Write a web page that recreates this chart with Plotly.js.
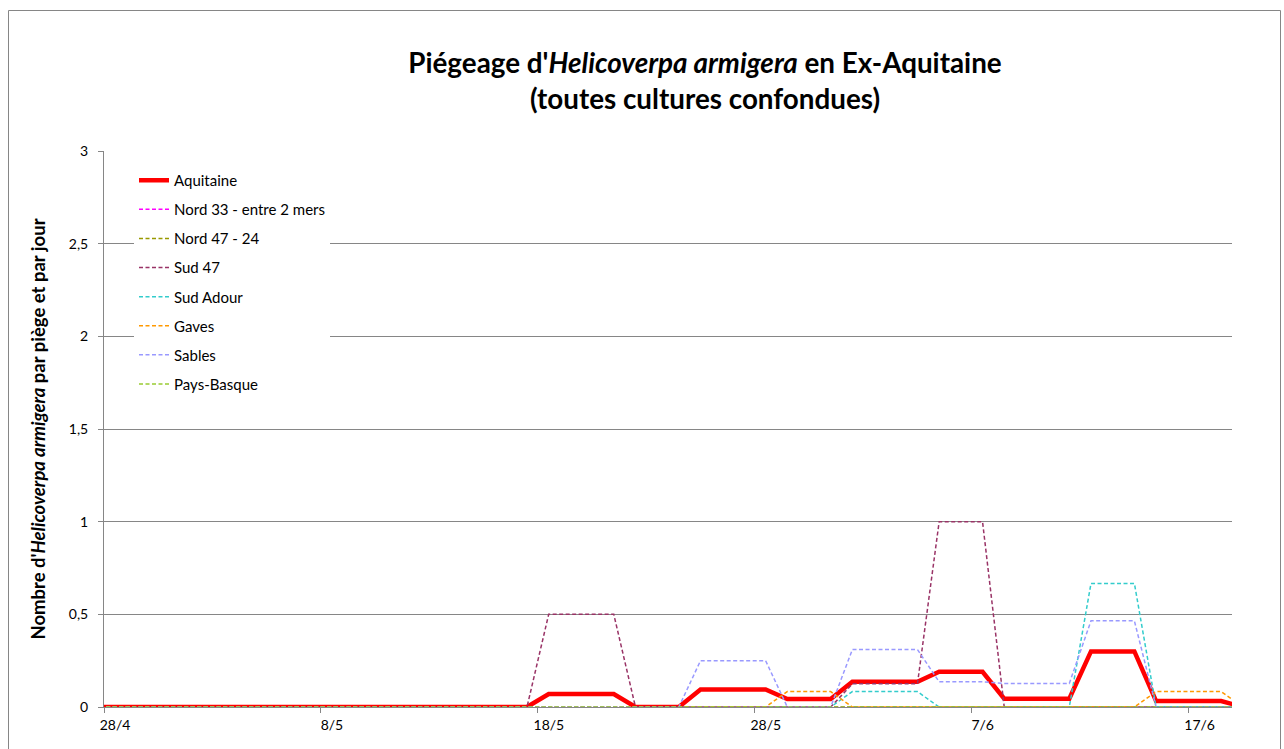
<!DOCTYPE html>
<html>
<head>
<meta charset="utf-8">
<script src="https://cdn.plot.ly/plotly-3.0.1.min.js"></script>
<style>html,body{margin:0;padding:0;background:#fff;}#chart{width:1284px;height:749px;}</style>
</head>
<body>
<div id="chart"></div>
<script>
// Dates (one value per day, plotted at mid-day)
const dates = [
"2016-04-27 12:00","2016-04-28 12:00","2016-04-29 12:00","2016-04-30 12:00",
"2016-05-01 12:00","2016-05-02 12:00","2016-05-03 12:00","2016-05-04 12:00","2016-05-05 12:00","2016-05-06 12:00",
"2016-05-07 12:00","2016-05-08 12:00","2016-05-09 12:00","2016-05-10 12:00","2016-05-11 12:00","2016-05-12 12:00",
"2016-05-13 12:00","2016-05-14 12:00","2016-05-15 12:00","2016-05-16 12:00","2016-05-17 12:00","2016-05-18 12:00",
"2016-05-19 12:00","2016-05-20 12:00","2016-05-21 12:00","2016-05-22 12:00","2016-05-23 12:00","2016-05-24 12:00",
"2016-05-25 12:00","2016-05-26 12:00","2016-05-27 12:00","2016-05-28 12:00","2016-05-29 12:00","2016-05-30 12:00",
"2016-05-31 12:00","2016-06-01 12:00","2016-06-02 12:00","2016-06-03 12:00","2016-06-04 12:00","2016-06-05 12:00",
"2016-06-06 12:00","2016-06-07 12:00","2016-06-08 12:00","2016-06-09 12:00","2016-06-10 12:00","2016-06-11 12:00",
"2016-06-12 12:00","2016-06-13 12:00","2016-06-14 12:00","2016-06-15 12:00","2016-06-16 12:00","2016-06-17 12:00",
"2016-06-18 12:00","2016-06-19 12:00"
];

const aquitaine = [
0,0,0,0,0,0,0,0,0,0,
0,0,0,0,0,0,0,0,0,0,
0,0.07,0.07,0.07,0.07,0,0,0,0.095,0.095,
0.095,0.095,0.043,0.043,0.043,0.136,0.136,0.136,0.136,0.19,
0.19,0.19,0.045,0.045,0.045,0.045,0.30,0.30,0.30,0.032,
0.032,0.032,0.032,0
];
const nord33 = [
0,0,0,0,0,0,0,0,0,0,
0,0,0,0,0,0,0,0,0,0,
0,0,0,0,0,0,0,0,0,0,
0,0,0,0,0,0,0,0,0,0,
0,0,0,0,0,0,0,0,0,0,
0,0,0,0
];
const nord4724 = [
0,0,0,0,0,0,0,0,0,0,
0,0,0,0,0,0,0,0,0,0,
0,0,0,0,0,0,0,0,0,0,
0,0,0,0,0,0,0,0,0,0,
0,0,0,0,0,0,0,0,0,0,
0,0,0,0
];
const sud47 = [
0,0,0,0,0,0,0,0,0,0,
0,0,0,0,0,0,0,0,0,0,
0,0.5,0.5,0.5,0.5,0,0,0,0,0,
0,0,0,0,0,0.125,0.125,0.125,0.125,1,
1,1,0,0,0,0,0,0,0,0,
0,0,0,0
];
const sudAdour = [
0,0,0,0,0,0,0,0,0,0,
0,0,0,0,0,0,0,0,0,0,
0,0,0,0,0,0,0,0,0,0,
0,0,0,0,0,0.083,0.083,0.083,0.083,0,
0,0,0,0,0,0,0.667,0.667,0.667,0,
0,0,0,0
];
const gaves = [
0,0,0,0,0,0,0,0,0,0,
0,0,0,0,0,0,0,0,0,0,
0,0,0,0,0,0,0,0,0,0,
0,0,0.083,0.083,0.083,0,0,0,0,0,
0,0,0,0,0,0,0,0,0,0.083,
0.083,0.083,0.083,0
];
const sables = [
0,0,0,0,0,0,0,0,0,0,
0,0,0,0,0,0,0,0,0,0,
0,0,0,0,0,0,0,0,0.25,0.25,
0.25,0.25,0,0,0,0.31,0.31,0.31,0.31,0.136,
0.136,0.136,0.127,0.127,0.127,0.127,0.465,0.465,0.465,0,
0,0,0,0
];
const paysBasque = [
0,0,0,0,0,0,0,0,0,0,
0,0,0,0,0,0,0,0,0,0,
0,0,0,0,0,0,0,0,0,0,
0,0,0,0,0,0,0,0,0,0,
0,0,0,0,0,0,0,0,0,0,
0,0,0,0
];

const seriesNames = ["Aquitaine","Nord 33 - entre 2 mers","Nord 47 - 24","Sud 47","Sud Adour","Gaves","Sables","Pays-Basque"];
const seriesValues = [aquitaine, nord33, nord4724, sud47, sudAdour, gaves, sables, paysBasque];
const seriesColors = ["#FF0000","#FF00FF","#999900","#993366","#33CCCC","#FF9900","#9999FF","#99CC33"];

const tickDates = ["2016-04-28","2016-05-08","2016-05-18","2016-05-28","2016-06-07","2016-06-17"];
const tickLabels = ["28/4","8/5","18/5","28/5","7/6","17/6"];
const yTicks = [0,0.5,1,1.5,2,2.5,3];

const FONT = "Lato, 'Open Sans', 'Liberation Sans', sans-serif";

const traces = seriesNames.map((name, i) => ({
  type: "scatter",
  mode: "lines",
  name: name,
  legendgroup: "g" + i,
  x: dates,
  y: seriesValues[i],
  line: i === 0
    ? {color: seriesColors[i], width: 4.5}
    : {color: seriesColors[i], width: 1.5, dash: "4px,2.5px"},
  hoverinfo: "x+y+name"
}));

// outer chart frame (pixel -> paper conversion)
const L = 104, R = 52, T = 151, B = 42, W = 1284, H = 749;
const pw = W - L - R, ph = H - T - B;
const px = v => (v - L) / pw;
const py = v => (H - B - v) / ph;

const layout = {
  width: W, height: H,
  margin: {l: L, r: R, t: T, b: B},
  paper_bgcolor: "#ffffff",
  plot_bgcolor: "#ffffff",
  separators: ", ",
  font: {family: FONT, color: "#000000", size: 14},
  title: {
    text: "<b>Piégeage d'<i>Helicoverpa armigera</i> en Ex-Aquitaine<br>(toutes cultures confondues)</b>",
    font: {family: FONT, size: 27.8, color: "#000000"},
    x: 705 / W, xref: "container", xanchor: "center",
    y: 1 - 73 / H, yref: "container", yanchor: "top"
  },
  xaxis: {
    type: "date",
    range: ["2016-04-28", "2016-06-19"],
    tickvals: tickDates,
    ticktext: tickLabels,
    ticks: "outside", ticklen: 5, tickcolor: "#868686", tickwidth: 1,
    ticklabelshift: 11,
    showline: true, linecolor: "#868686", linewidth: 1,
    showgrid: false, zeroline: false,
    tickfont: {family: FONT, size: 14, color: "#000000"},
    fixedrange: true
  },
  yaxis: {
    range: [0, 3],
    tickvals: yTicks,
    ticks: "outside", ticklen: 5, tickcolor: "#868686", tickwidth: 1,
    ticklabelstandoff: 7,
    showline: true, linecolor: "#868686", linewidth: 1,
    showgrid: true, gridcolor: "#868686", gridwidth: 1,
    zeroline: false,
    tickfont: {family: FONT, size: 14, color: "#000000"},
    title: {
      text: "<b>Nombre d'<i>Helicoverpa armigera</i> par piège et par jour</b>",
      font: {family: FONT, size: 18.5, color: "#000000"},
      standoff: 18
    },
    automargin: false,
    fixedrange: true
  },
  legend: {
    x: px(134), xanchor: "left",
    y: py(164), yanchor: "top",
    bgcolor: "#ffffff",
    borderwidth: 0,
    traceorder: "grouped",
    tracegroupgap: 6.6,
    font: {family: FONT, size: 15, color: "#000000"}
  },
  showlegend: true,
  shapes: [{
    type: "rect", xref: "paper", yref: "paper",
    x0: px(8.5), x1: px(1280.5), y0: py(770), y1: py(10.5),
    line: {color: "#868686", width: 1}, fillcolor: "rgba(0,0,0,0)"
  }]
};

Plotly.newPlot("chart", traces, layout, {displayModeBar: false, staticPlot: true});
</script>
</body>
</html>
